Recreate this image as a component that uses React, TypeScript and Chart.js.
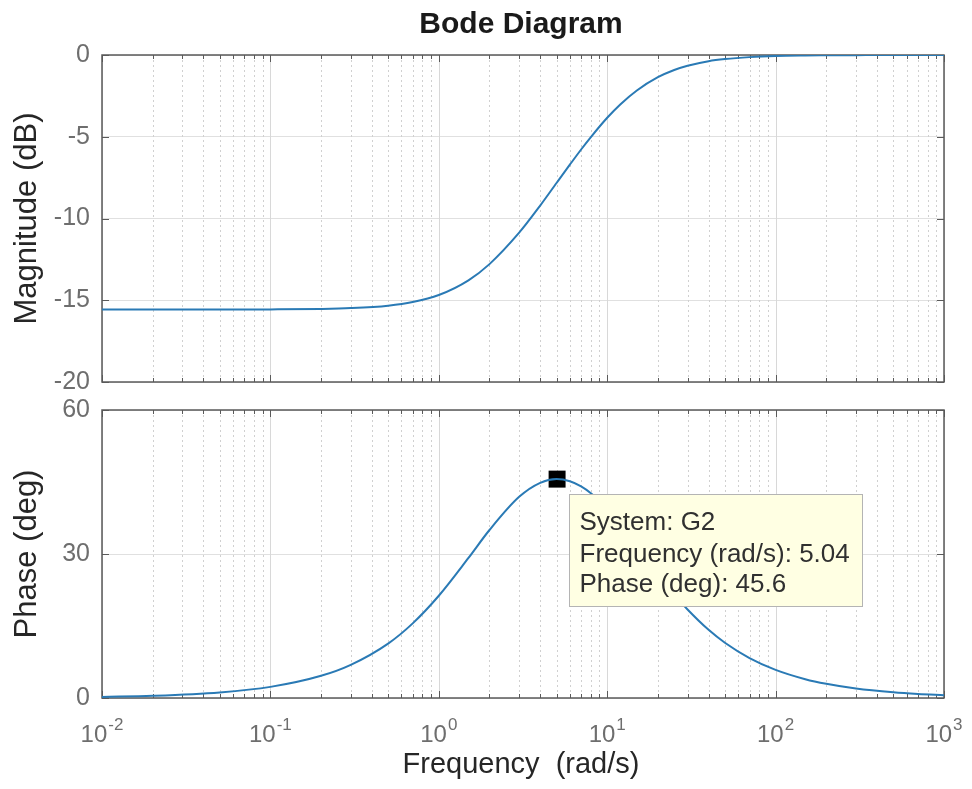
import React, { useEffect, useRef } from "react";
import { Chart, registerables } from "chart.js";

Chart.register(...registerables);

// ---- data ----
const frequencies = [0.01, 0.02, 0.05, 0.1, 0.2, 0.3, 0.5, 0.7, 1, 1.5, 2, 3, 4, 5, 6, 7, 8, 10, 12, 15, 20, 25, 30, 40, 50, 70, 100, 150, 200, 300, 500, 700, 1000];
const magnitudeDb = [-15.57, -15.57, -15.57, -15.56, -15.53, -15.48, -15.33, -15.11, -14.68, -13.78, -12.79, -10.87, -9.21, -7.83, -6.71, -5.78, -5.02, -3.84, -3.01, -2.17, -1.36, -0.92, -0.66, -0.38, -0.25, -0.13, -0.06, -0.03, -0.02, -0.01, 0, 0, 0];
const phaseDeg = [0.23, 0.46, 1.16, 2.32, 4.63, 6.91, 11.34, 15.55, 21.3, 29.17, 35.0, 41.91, 44.83, 45.6, 45.16, 44.08, 42.65, 39.38, 36.1, 31.66, 25.83, 21.55, 18.45, 14.21, 11.52, 8.32, 5.86, 3.92, 2.95, 1.96, 1.18, 0.84, 0.59];

const markerFrequency = 5.04;
const markerPhase = 45.6;
const datatipLines = ["System: G2", "Frequency (rad/s): 5.04", "Phase (deg): 45.6"];

const decadeExponents = [-2, -1, 0, 1, 2, 3];
const freqMin = 0.01;
const freqMax = 1000;
const magnitudeRange = [-20, 0];
const magnitudeStep = 5;
const phaseRange = [0, 60];
const phaseStep = 30;

const titleText = "Bode Diagram";
const xLabelText = "Frequency  (rad/s)";
const magLabelText = "Magnitude (dB)";
const phaseLabelText = "Phase (deg)";

// ---- styles ----
const FONT = "'Liberation Sans', Arial, Helvetica, sans-serif";
const AXIS_COLOR = "#5a5a5a";
const TICK_TEXT = "#6e6e6e";
const LABEL_TEXT = "#262626";
const LINE_COLOR = "#2a7ab5";

function makeFramePlugin(cfg: { yLabel: string; title?: string; xTicks: boolean; xLabel?: string; xTickBaseline?: number; xLabelBaseline?: number }) {
  return {
    id: "bodeFrame",
    beforeDatasetsDraw(chart: any) {
      const { ctx, chartArea: a, scales } = chart;
      const xs = scales.x;
      const ys = scales.y;
      ctx.save();
      for (const e of decadeExponents) {
        for (let k = 1; k <= 9; k++) {
          const v = k * Math.pow(10, e);
          if (v < freqMin * 0.999 || v > freqMax * 1.001) continue;
          const px = Math.round(xs.getPixelForValue(v)) + 0.5;
          ctx.beginPath();
          ctx.lineWidth = 1;
          if (k === 1) {
            ctx.setLineDash([]);
            ctx.strokeStyle = "#d8d8d8";
          } else {
            ctx.setLineDash([2, 3]);
            ctx.strokeStyle = "#d0d0d0";
          }
          ctx.moveTo(px, a.top);
          ctx.lineTo(px, a.bottom);
          ctx.stroke();
        }
      }
      ctx.setLineDash([]);
      ctx.strokeStyle = AXIS_COLOR;
      ctx.lineWidth = 1;
      for (const e of decadeExponents) {
        for (let k = 1; k <= 9; k++) {
          const v = k * Math.pow(10, e);
          if (v < freqMin * 0.999 || v > freqMax * 1.001) continue;
          const px = Math.round(xs.getPixelForValue(v)) + 0.5;
          const len = k === 1 ? 7 : 4;
          ctx.beginPath();
          ctx.moveTo(px, a.top);
          ctx.lineTo(px, a.top + len);
          ctx.moveTo(px, a.bottom);
          ctx.lineTo(px, a.bottom - len);
          ctx.stroke();
        }
      }
      for (const t of ys.ticks) {
        const py = Math.round(ys.getPixelForValue(t.value)) + 0.5;
        ctx.beginPath();
        ctx.moveTo(a.left, py);
        ctx.lineTo(a.left + 7, py);
        ctx.moveTo(a.right, py);
        ctx.lineTo(a.right - 7, py);
        ctx.stroke();
      }
      ctx.lineWidth = 1.5;
      ctx.strokeRect(Math.round(a.left), Math.round(a.top), Math.round(a.right - a.left), Math.round(a.bottom - a.top));
      ctx.restore();
    },
    afterDraw(chart: any) {
      const { ctx, chartArea: a, scales } = chart;
      const xs = scales.x;
      ctx.save();
      const cx = (a.left + a.right) / 2;
      if (cfg.title) {
        ctx.font = `bold 30px ${FONT}`;
        ctx.fillStyle = "#1a1a1a";
        ctx.textAlign = "center";
        ctx.textBaseline = "alphabetic";
        ctx.fillText(cfg.title, cx - 2, 33);
      }
      ctx.save();
      ctx.translate(36, (a.top + a.bottom) / 2);
      ctx.rotate(-Math.PI / 2);
      ctx.font = `31px ${FONT}`;
      ctx.fillStyle = LABEL_TEXT;
      ctx.textAlign = "center";
      ctx.textBaseline = "alphabetic";
      ctx.fillText(cfg.yLabel, 0, 0);
      ctx.restore();
      if (cfg.xTicks) {
        const base = cfg.xTickBaseline as number;
        ctx.fillStyle = TICK_TEXT;
        ctx.textAlign = "left";
        ctx.textBaseline = "alphabetic";
        for (const e of decadeExponents) {
          const px = xs.getPixelForValue(Math.pow(10, e));
          ctx.font = `24px ${FONT}`;
          const w1 = ctx.measureText("10").width;
          ctx.font = `17px ${FONT}`;
          const expStr = String(e);
          const w2 = ctx.measureText(expStr).width;
          const start = px - (w1 + w2 + 1) / 2;
          ctx.font = `24px ${FONT}`;
          ctx.fillText("10", start, base);
          ctx.font = `17px ${FONT}`;
          ctx.fillText(expStr, start + w1 + 1, base - 12);
        }
      }
      if (cfg.xLabel) {
        ctx.font = `29px ${FONT}`;
        ctx.fillStyle = LABEL_TEXT;
        ctx.textAlign = "center";
        ctx.textBaseline = "alphabetic";
        ctx.fillText(cfg.xLabel, cx - 2, cfg.xLabelBaseline as number);
      }
      ctx.restore();
    },
  };
}

const datatipPlugin = {
  id: "datatip",
  afterDatasetsDraw(chart: any) {
    const { ctx, scales } = chart;
    const mx = scales.x.getPixelForValue(markerFrequency);
    const my = scales.y.getPixelForValue(markerPhase);
    const left = Math.round(mx + 12) + 0.5;
    const top = Math.round(my + 15) + 0.5;
    const w = 293;
    const h = 112;
    ctx.save();
    ctx.fillStyle = "#ffffe3";
    ctx.fillRect(left, top, w, h);
    ctx.strokeStyle = "#b4b4b4";
    ctx.lineWidth = 1;
    ctx.strokeRect(left, top, w, h);
    ctx.font = `26px ${FONT}`;
    ctx.fillStyle = "#303030";
    ctx.textAlign = "left";
    ctx.textBaseline = "alphabetic";
    const offsets = [35, 67, 97];
    datatipLines.forEach((line, i) => ctx.fillText(line, left + 10, top + offsets[i]));
    ctx.restore();
  },
};

function baseOptions(yMin: number, yMax: number, step: number, padTop: number, xHeight: number) {
  return {
    responsive: false,
    animation: false as const,
    devicePixelRatio: 1,
    events: [] as any[],
    layout: { padding: { top: padTop, right: 28, bottom: 0, left: 0 } },
    plugins: {
      legend: { display: false },
      tooltip: { enabled: false },
      title: { display: false },
    },
    scales: {
      x: {
        type: "logarithmic" as const,
        min: freqMin,
        max: freqMax,
        ticks: { display: false },
        grid: { display: false },
        border: { display: false },
        afterFit: (s: any) => {
          s.height = xHeight;
          s.paddingLeft = 0;
          s.paddingRight = 0;
        },
      },
      y: {
        type: "linear" as const,
        min: yMin,
        max: yMax,
        ticks: {
          stepSize: step,
          color: TICK_TEXT,
          padding: 12,
          font: { family: FONT, size: 25 },
        },
        grid: { color: "#e0e0e0", drawTicks: false, lineWidth: 1 },
        border: { display: false },
        afterFit: (s: any) => {
          s.width = 102;
          s.paddingTop = 0;
          s.paddingBottom = 0;
        },
      },
    },
  };
}

export default function App() {
  const topRef = useRef<HTMLCanvasElement | null>(null);
  const botRef = useRef<HTMLCanvasElement | null>(null);

  useEffect(() => {
    const magData = frequencies.map((f, i) => ({ x: f, y: magnitudeDb[i] }));
    const phaseData = frequencies.map((f, i) => ({ x: f, y: phaseDeg[i] }));

    const top = new Chart(topRef.current as HTMLCanvasElement, {
      type: "line",
      data: {
        datasets: [
          {
            data: magData,
            borderColor: LINE_COLOR,
            borderWidth: 2,
            pointRadius: 0,
            cubicInterpolationMode: "monotone",
            fill: false,
          },
        ],
      },
      options: baseOptions(magnitudeRange[0], magnitudeRange[1], magnitudeStep, 55, 13) as any,
      plugins: [makeFramePlugin({ yLabel: magLabelText, title: titleText, xTicks: false })],
    });

    const bottom = new Chart(botRef.current as HTMLCanvasElement, {
      type: "line",
      data: {
        datasets: [
          {
            data: phaseData,
            borderColor: LINE_COLOR,
            borderWidth: 2,
            pointRadius: 0,
            cubicInterpolationMode: "monotone",
            fill: false,
          },
          {
            data: [{ x: markerFrequency, y: markerPhase }],
            showLine: false,
            pointStyle: "rect",
            pointRadius: 12,
            pointBackgroundColor: "#000000",
            pointBorderColor: "#000000",
            pointBorderWidth: 0,
          },
        ],
      },
      options: baseOptions(phaseRange[0], phaseRange[1], phaseStep, 15, 91) as any,
      plugins: [
        makeFramePlugin({ yLabel: phaseLabelText, xTicks: true, xLabel: xLabelText, xTickBaseline: 347, xLabelBaseline: 378 }),
        datatipPlugin,
      ],
    });

    return () => {
      top.destroy();
      bottom.destroy();
    };
  }, []);

  return (
    <div style={{ position: "fixed", left: 0, top: 0, width: 972, height: 789, background: "#ffffff" }}>
      <canvas ref={topRef} width={972} height={395} style={{ position: "absolute", left: 0, top: 0, display: "block" }} />
      <canvas ref={botRef} width={972} height={394} style={{ position: "absolute", left: 0, top: 395, display: "block" }} />
    </div>
  );
}
